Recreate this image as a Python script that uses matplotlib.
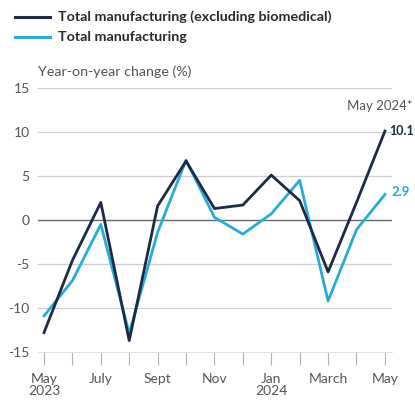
"""
Manufacturing output, year-on-year change: line chart.
"""
import numpy as np
import matplotlib
matplotlib.use("Agg")
import matplotlib.pyplot as plt

# Monthly data, May 2023 .. May 2024
months = ["May 2023", "Jun 2023", "Jul 2023", "Aug 2023", "Sep 2023", "Oct 2023",
          "Nov 2023", "Dec 2023", "Jan 2024", "Feb 2024", "Mar 2024", "Apr 2024",
          "May 2024"]
tick_labels = ["May\n2023", "", "July", "", "Sept", "", "Nov", "", "Jan\n2024",
               "", "March", "", "May"]
excl_biomedical = [-12.8, -4.6, 2.0, -13.7, 1.6, 6.7, 1.3, 1.7, 5.1, 2.2, -5.9, 2.0, 10.1]
total_mfg = [-10.9, -6.9, -0.5, -12.9, -1.4, 6.8, 0.3, -1.6, 0.7, 4.5, -9.2, -1.1, 2.9]

DARK = "#1d2a45"
LIGHT = "#2aaad8"
GREY = "#555555"

plt.rcParams["font.family"] = ["Lato", "DejaVu Sans"]

fig = plt.figure(figsize=(4.15, 4.03), dpi=100)
ax = fig.add_axes([0.0916, 0.1266, 0.853, 0.655])

x = np.arange(len(months))
ax.plot(x, excl_biomedical, color=DARK, linewidth=2.0, zorder=4)
ax.plot(x, total_mfg, color=LIGHT, linewidth=2.0, zorder=3)

ax.set_xlim(-0.21, 12.25)
ax.set_ylim(-15, 15)
ax.set_yticks([-15, -10, -5, 0, 5, 10, 15])
ax.set_yticklabels(["-15", "-10", "-5", "0", "5", "10", "15"])
ax.set_xticks(x)
ax.set_xticklabels(tick_labels, linespacing=1.05)

# horizontal gridlines, zero line darker
for v in [-10, -5, 5, 10, 15]:
    ax.axhline(v, color="#cfcfcf", linewidth=0.9, zorder=1)
ax.axhline(0, color="#6a6a6a", linewidth=1.0, zorder=2)

for side in ["left", "right", "top"]:
    ax.spines[side].set_visible(False)
ax.spines["bottom"].set_color("#dddddd")
ax.spines["bottom"].set_linewidth(0.6)
ax.tick_params(axis="y", length=0, pad=6, labelsize=10, labelcolor=GREY)
ax.tick_params(axis="x", length=9, width=0.8, color="#b0b0b0", pad=6,
               labelsize=10, labelcolor=GREY)

# end labels
ax.annotate("May 2024*", (x[-1], excl_biomedical[-1]), xytext=(20, 14),
            textcoords="offset points", ha="right", va="bottom",
            fontsize=9.5, color=GREY, annotation_clip=False)
ax.annotate(f"{excl_biomedical[-1]:.1f}", (x[-1], excl_biomedical[-1]),
            xytext=(3, 0), textcoords="offset points", ha="left", va="center",
            fontsize=9, fontweight="bold", color=DARK, annotation_clip=False)
ax.annotate(f"{total_mfg[-1]:.1f}", (x[-1], total_mfg[-1]),
            xytext=(5, 2), textcoords="offset points", ha="left", va="center",
            fontsize=9.5, fontweight="bold", color=LIGHT, annotation_clip=False)

fig.text(0.0916, 0.822, "Year-on-year change (%)", fontsize=10.3, color=GREY,
         ha="left", va="center")

# legend drawn by hand at the top
for ypos, col, lab in [(0.958, DARK, "Total manufacturing (excluding biomedical)"),
                       (0.909, LIGHT, "Total manufacturing")]:
    fig.add_artist(plt.Line2D([0.036, 0.12], [ypos, ypos], color=col,
                              linewidth=2.2, transform=fig.transFigure))
    fig.text(0.14, ypos, lab, fontsize=10.3, fontweight="bold", color="#2a2a2a",
             ha="left", va="center")

fig.savefig("out.png", dpi=100)
plt.close(fig)
